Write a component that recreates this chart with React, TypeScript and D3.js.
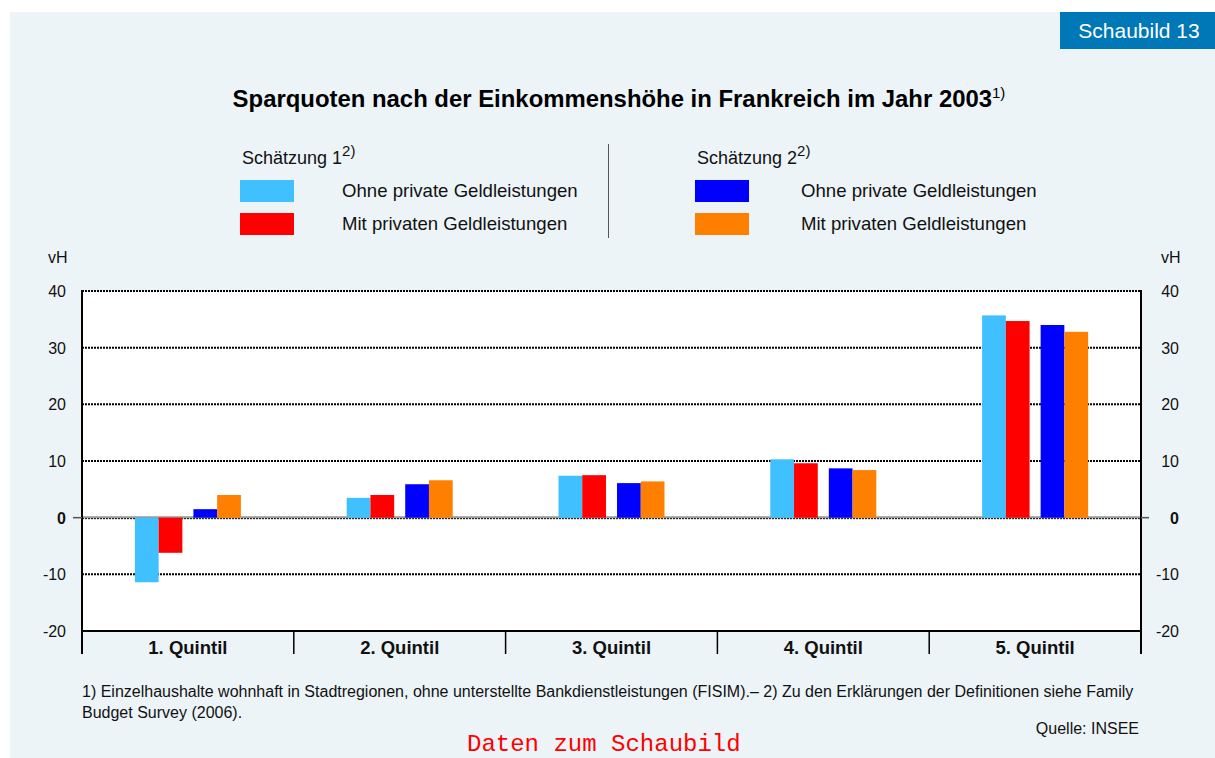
import React, { useEffect, useRef } from "react";
import * as d3 from "d3";

const categories = ["1. Quintil", "2. Quintil", "3. Quintil", "4. Quintil", "5. Quintil"];
const est1Ohne = [-11.4, 3.5, 7.4, 10.3, 35.7];
const est1Mit = [-6.2, 4.0, 7.5, 9.6, 34.7];
const est2Ohne = [1.5, 5.9, 6.1, 8.7, 34.0];
const est2Mit = [4.0, 6.6, 6.4, 8.4, 32.8];
const yTicks = [40, 30, 20, 10, 0, -10, -20];

const seriesNames = ["Ohne private Geldleistungen", "Mit privaten Geldleistungen"];
const colors = ["#40c0ff", "#ff0000", "#0000ff", "#ff8000"];

const W = 1215;
const H = 758;
const FONT = "Arial, 'Liberation Sans', Helvetica, sans-serif";

export default function App() {
  const ref = useRef<SVGSVGElement | null>(null);

  useEffect(() => {
    const svg = d3.select(ref.current);
    svg.selectAll("*").remove();

    // background panel
    svg.append("rect").attr("x", 0).attr("y", 0).attr("width", W).attr("height", H).attr("fill", "#ffffff");
    svg.append("rect").attr("x", 10).attr("y", 12).attr("width", W - 10).attr("height", H - 12).attr("fill", "#ecf4f8");

    // Schaubild badge
    svg.append("rect").attr("x", 1060).attr("y", 12).attr("width", 155).attr("height", 37).attr("fill", "#0077b6");
    svg.append("text").attr("x", 1139).attr("y", 38).attr("text-anchor", "middle")
      .attr("font-family", FONT).attr("font-size", 21).attr("fill", "#ffffff").text("Schaubild 13");

    // Title
    const title = svg.append("text").attr("x", 619).attr("y", 107).attr("text-anchor", "middle")
      .attr("font-family", FONT).attr("font-size", 23.9).attr("font-weight", "bold").attr("fill", "#000");
    title.append("tspan").text("Sparquoten nach der Einkommenshöhe in Frankreich im Jahr 2003");
    title.append("tspan").attr("dy", -9).attr("font-size", 15).attr("font-weight", "normal").text("1)");

    // Legend
    const legendBlocks = [
      { x: 240, lx: 342, label: "Schätzung 1", cols: [colors[0], colors[1]] },
      { x: 695, lx: 801, label: "Schätzung 2", cols: [colors[2], colors[3]] },
    ];
    legendBlocks.forEach((b) => {
      const t = svg.append("text").attr("x", b.x + 2).attr("y", 164)
        .attr("font-family", FONT).attr("font-size", 18).attr("fill", "#111");
      t.append("tspan").text(b.label);
      t.append("tspan").attr("dy", -8).attr("font-size", 15).text("2)");
      b.cols.forEach((c, i) => {
        const yy = 180 + i * 33;
        svg.append("rect").attr("x", b.x).attr("y", yy).attr("width", 54).attr("height", 22).attr("fill", c);
        svg.append("text").attr("x", b.lx).attr("y", yy + 17)
          .attr("font-family", FONT).attr("font-size", 18.6).attr("fill", "#111").text(seriesNames[i]);
      });
    });
    svg.append("line").attr("x1", 608.5).attr("x2", 608.5).attr("y1", 144).attr("y2", 238)
      .attr("stroke", "#555").attr("stroke-width", 1);

    // Plot
    const left = 82, right = 1141, top = 291, bottom = 631;
    const y = d3.scaleLinear().domain([-20, 40]).range([bottom, top]);
    const x = d3.scaleBand<string>().domain(categories).range([left, right]).padding(0);
    const est = d3.scaleBand<string>().domain(["e1", "e2"]).range([-53, 53]).paddingInner(20 / 106);
    const sub = d3.scaleBand<string>().domain(["ohne", "mit"]).range([0, est.bandwidth()]);

    svg.append("rect").attr("x", left).attr("y", top).attr("width", right - left).attr("height", bottom - top).attr("fill", "#ffffff");

    // gridlines
    yTicks.filter((t) => t !== 0 && t !== -20).forEach((t) => {
      svg.append("line").attr("x1", left).attr("x2", right).attr("y1", y(t)).attr("y2", y(t))
        .attr("stroke", "#000").attr("stroke-width", 2).attr("stroke-dasharray", "2,1");
    });

    // zero line
    svg.append("line").attr("x1", left).attr("x2", right).attr("y1", y(0) - 0.5).attr("y2", y(0) - 0.5)
      .attr("stroke", "#999").attr("stroke-width", 2);
    svg.append("line").attr("x1", left).attr("x2", right).attr("y1", y(0) + 1).attr("y2", y(0) + 1)
      .attr("stroke", "#000").attr("stroke-width", 1).attr("stroke-dasharray", "2,1");

    // bars
    const groups = [
      { e: "e1", s: "ohne", vals: est1Ohne, c: colors[0] },
      { e: "e1", s: "mit", vals: est1Mit, c: colors[1] },
      { e: "e2", s: "ohne", vals: est2Ohne, c: colors[2] },
      { e: "e2", s: "mit", vals: est2Mit, c: colors[3] },
    ];
    groups.forEach((g) => {
      svg.append("g").selectAll("rect").data(g.vals).join("rect")
        .attr("x", (_, i) => (x(categories[i]) as number) + x.bandwidth() / 2 + (est(g.e) as number) + (sub(g.s) as number))
        .attr("width", sub.bandwidth())
        .attr("y", (d) => y(Math.max(0, d)))
        .attr("height", (d) => Math.abs(y(d) - y(0)))
        .attr("fill", g.c);
    });

    // frame
    svg.append("line").attr("x1", left).attr("x2", right).attr("y1", bottom).attr("y2", bottom).attr("stroke", "#000").attr("stroke-width", 2);
    svg.append("line").attr("x1", left).attr("x2", right).attr("y1", top).attr("y2", top).attr("stroke", "#000").attr("stroke-width", 2).attr("stroke-dasharray", "2,1");
    svg.append("line").attr("x1", left).attr("x2", left).attr("y1", top - 1).attr("y2", bottom + 23).attr("stroke", "#000").attr("stroke-width", 2);
    svg.append("line").attr("x1", right).attr("x2", right).attr("y1", top - 1).attr("y2", bottom + 23).attr("stroke", "#000").attr("stroke-width", 2);
    // zero ticks outside
    svg.append("line").attr("x1", left - 9).attr("x2", left).attr("y1", y(0)).attr("y2", y(0)).attr("stroke", "#555").attr("stroke-width", 1.5);
    svg.append("line").attr("x1", right).attr("x2", right + 8).attr("y1", y(0)).attr("y2", y(0)).attr("stroke", "#555").attr("stroke-width", 1.5);

    // category separators and labels
    categories.forEach((c, i) => {
      const x0 = x(c) as number;
      if (i > 0) {
        svg.append("line").attr("x1", x0).attr("x2", x0).attr("y1", bottom).attr("y2", bottom + 23).attr("stroke", "#000").attr("stroke-width", 1.5);
      }
      svg.append("text").attr("x", x0 + x.bandwidth() / 2).attr("y", bottom + 23).attr("text-anchor", "middle")
        .attr("font-family", FONT).attr("font-size", 18.5).attr("font-weight", "bold").attr("fill", "#111").text(c);
    });

    // y tick labels
    yTicks.forEach((t) => {
      const bold = t === 0 ? "bold" : "normal";
      svg.append("text").attr("x", 66).attr("y", y(t) + 6).attr("text-anchor", "end")
        .attr("font-family", FONT).attr("font-size", 16).attr("font-weight", bold).attr("fill", "#111").text(String(t));
      svg.append("text").attr("x", 1179).attr("y", y(t) + 6).attr("text-anchor", "end")
        .attr("font-family", FONT).attr("font-size", 16).attr("font-weight", bold).attr("fill", "#111").text(String(t));
    });
    svg.append("text").attr("x", 48).attr("y", 263).attr("font-family", FONT).attr("font-size", 16).attr("fill", "#111").text("vH");
    svg.append("text").attr("x", 1161).attr("y", 263).attr("font-family", FONT).attr("font-size", 16).attr("fill", "#111").text("vH");

    // footnotes
    svg.append("text").attr("x", 82).attr("y", 697).attr("font-family", FONT).attr("font-size", 16).attr("fill", "#111")
      .text("1) Einzelhaushalte wohnhaft in Stadtregionen, ohne unterstellte Bankdienstleistungen (FISIM).– 2) Zu den Erklärungen der Definitionen siehe Family");
    svg.append("text").attr("x", 82).attr("y", 718).attr("font-family", FONT).attr("font-size", 16).attr("fill", "#111")
      .text("Budget Survey (2006).");
    svg.append("text").attr("x", 1139).attr("y", 734).attr("text-anchor", "end").attr("font-family", FONT).attr("font-size", 16).attr("fill", "#111")
      .text("Quelle: INSEE");
    svg.append("text").attr("x", 467).attr("y", 751).attr("font-family", "'Liberation Mono', 'DejaVu Sans Mono', monospace").attr("font-size", 24).attr("fill", "#ff0000")
      .text("Daten zum Schaubild");
  }, []);

  return (
    <svg ref={ref} width={W} height={H} style={{ position: "fixed", left: 0, top: 0, display: "block" }} />
  );
}
